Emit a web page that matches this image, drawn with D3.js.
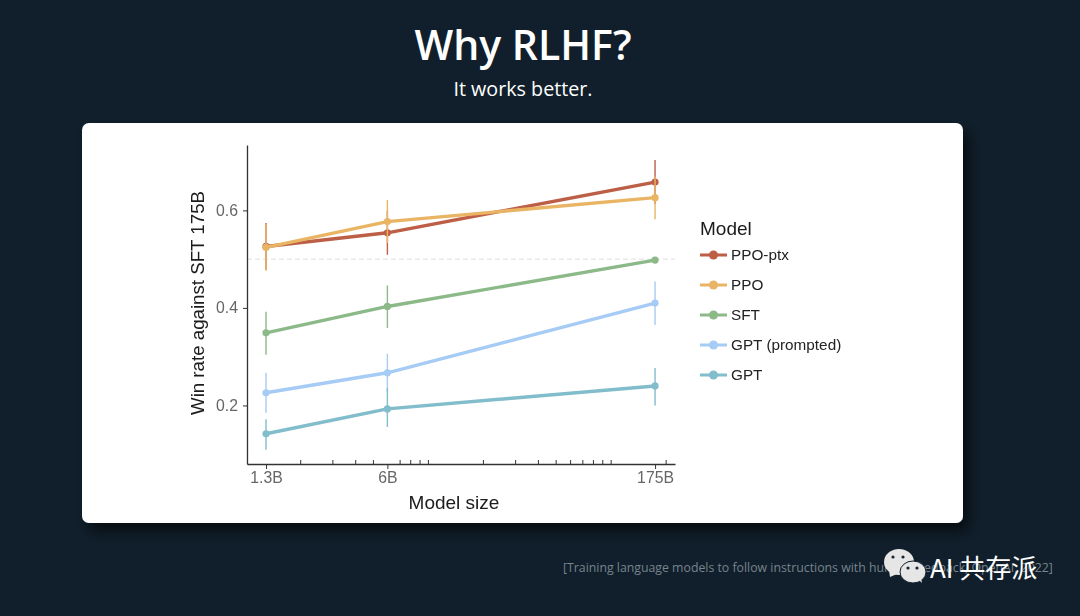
<!DOCTYPE html>
<html>
<head>
<meta charset="utf-8">
<script src="https://cdn.jsdelivr.net/npm/d3@7"></script>
<style>
  html, body { margin: 0; padding: 0; background: #101f2b; overflow: hidden; }
  svg { display: block; }
  text { font-family: "Liberation Sans", Arial, sans-serif; }
  .slide-text { font-family: "Open Sans", sans-serif; }
</style>
</head>
<body>
<div id="my_dataviz"></div>
<script>
// values
var sizes = [1.3, 6, 175];
var sizeLabels = ["1.3B", "6B", "175B"];
var minorSizes = [2, 3, 4, 5, 7, 8, 9, 10, 20, 30, 40, 50, 60, 70, 80, 90, 100, 200];
var yTicks = [0.2, 0.4, 0.6];
var models = ["PPO-ptx", "PPO", "SFT", "GPT (prompted)", "GPT"];
var colors = ["#bd5f47", "#e9b463", "#8cb988", "#a6cbf5", "#82bdcb"];

var ppoPtx = [0.526, 0.554, 0.658];
var ppoPtxLow = [0.478, 0.509, 0.613];
var ppoPtxHigh = [0.574, 0.599, 0.703];
var ppo = [0.524, 0.577, 0.626];
var ppoLow = [0.476, 0.533, 0.582];
var ppoHigh = [0.572, 0.621, 0.670];
var sft = [0.349, 0.403, 0.498];
var sftLow = [0.304, 0.359, 0.498];
var sftHigh = [0.392, 0.446, 0.498];
var gptPrompted = [0.226, 0.267, 0.410];
var gptPromptedLow = [0.185, 0.228, 0.365];
var gptPromptedHigh = [0.267, 0.306, 0.454];
var gpt = [0.142, 0.193, 0.240];
var gptLow = [0.109, 0.156, 0.200];
var gptHigh = [0.172, 0.236, 0.277];

var seriesValues = [ppoPtx, ppo, sft, gptPrompted, gpt];
var seriesLow = [ppoPtxLow, ppoLow, sftLow, gptPromptedLow, gptLow];
var seriesHigh = [ppoPtxHigh, ppoHigh, sftHigh, gptPromptedHigh, gptHigh];

var svg = d3.select("#my_dataviz")
  .append("svg")
  .attr("width", 1080)
  .attr("height", 616);

var defs = svg.append("defs");
var shadow = defs.append("filter").attr("id", "shadow")
  .attr("x", "-5%").attr("y", "-5%").attr("width", "110%").attr("height", "115%");
shadow.append("feDropShadow").attr("dx", 6).attr("dy", 8).attr("stdDeviation", 7)
  .attr("flood-color", "#000").attr("flood-opacity", 0.6);
var soft = defs.append("filter").attr("id", "soft");
soft.append("feGaussianBlur").attr("stdDeviation", 0.35);

// slide title
svg.append("text").attr("class", "slide-text")
  .attr("x", 523).attr("y", 60).attr("text-anchor", "middle")
  .style("font-size", "41px").style("font-weight", 600).style("fill", "#fff")
  .text("Why RLHF?");
svg.append("text").attr("class", "slide-text")
  .attr("x", 523).attr("y", 96).attr("text-anchor", "middle")
  .style("font-size", "19.7px").style("fill", "#fff")
  .text("It works better.");

// white card
svg.append("rect")
  .attr("x", 82).attr("y", 123).attr("width", 881).attr("height", 400)
  .attr("rx", 7).attr("fill", "#fff").attr("filter", "url(#shadow)");

var chart = svg.append("g").attr("filter", "url(#soft)");

// scales
var x = d3.scaleLog().domain([1.023, 225]).range([247, 675]);
var y = d3.scaleLinear().domain([0.08, 0.734]).range([464, 145]);

// reference line
chart.append("line")
  .attr("x1", x.range()[0]).attr("x2", x.range()[1])
  .attr("y1", y(0.5)).attr("y2", y(0.5))
  .attr("stroke", "#dedede").attr("stroke-width", 1).attr("stroke-dasharray", "5,3");

// axes
var yAxis = chart.append("g")
  .attr("transform", "translate(247,0)")
  .call(d3.axisLeft(y).tickValues(yTicks).tickFormat(d3.format(".1f")).tickSize(4).tickSizeOuter(0).tickPadding(5));
var xAxis = chart.append("g")
  .attr("transform", "translate(0,464)")
  .call(d3.axisBottom(x).tickValues(sizes).tickFormat(function (d, i) { return sizeLabels[i]; }).tickSize(5).tickSizeOuter(0).tickPadding(3));

// minor ticks point up into the plot
var xMinor = chart.append("g")
  .attr("transform", "translate(0,464)")
  .call(d3.axisTop(x).tickValues(minorSizes).tickFormat("").tickSize(4).tickSizeOuter(0));
xMinor.select(".domain").remove();

[yAxis, xAxis, xMinor].forEach(function (a) {
  a.selectAll(".domain").attr("stroke", "#333").attr("stroke-width", 1.3);
  a.selectAll(".tick line").attr("stroke", "#333").attr("stroke-width", 1);
  a.selectAll(".tick text").style("font-size", "15.8px").style("fill", "#666")
    .style("font-family", '"Liberation Sans", Arial, sans-serif');
});

// axis titles
chart.append("text")
  .attr("x", 454).attr("y", 509).attr("text-anchor", "middle")
  .style("font-size", "19px").style("fill", "#1a1a1a")
  .text("Model size");
chart.append("text")
  .attr("transform", "translate(204,303) rotate(-90)").attr("text-anchor", "middle")
  .style("font-size", "18.7px").style("fill", "#1a1a1a")
  .text("Win rate against SFT 175B");

var line = d3.line()
  .x(function (d, i) { return x(sizes[i]); })
  .y(function (d) { return y(d); });

// one group per model, first model ends up on the bottom
models.forEach(function (model, m) {
  var g = chart.append("g");
  g.selectAll("line.err")
    .data(sizes)
    .enter()
    .append("line")
    .attr("class", "err")
    .attr("x1", function (d) { return x(d); })
    .attr("x2", function (d) { return x(d); })
    .attr("y1", function (d, i) { return y(seriesLow[m][i]); })
    .attr("y2", function (d, i) { return y(seriesHigh[m][i]); })
    .attr("stroke", colors[m]).attr("stroke-width", 1.4);
  g.append("path")
    .attr("d", line(seriesValues[m]))
    .attr("fill", "none").attr("stroke", colors[m]).attr("stroke-width", 3.4);
  g.selectAll("circle")
    .data(seriesValues[m])
    .enter()
    .append("circle")
    .attr("cx", function (d, i) { return x(sizes[i]); })
    .attr("cy", function (d) { return y(d); })
    .attr("r", 3.6).attr("fill", colors[m]);
});

// handmade legend
var legend = chart.append("g");
legend.append("text")
  .attr("x", 700).attr("y", 235)
  .style("font-size", "19px").style("fill", "#1a1a1a").text("Model");
var legendY = d3.scalePoint().domain(models).range([255, 375]);
models.forEach(function (model, m) {
  var ly = legendY(model);
  legend.append("line")
    .attr("x1", 700).attr("x2", 727).attr("y1", ly).attr("y2", ly)
    .attr("stroke", colors[m]).attr("stroke-width", 3);
  legend.append("circle").attr("cx", 713.5).attr("cy", ly).attr("r", 4.5).attr("fill", colors[m]);
  legend.append("text")
    .attr("x", 731).attr("y", ly + 5)
    .style("font-size", "15.3px").style("fill", "#222").text(model);
});

// citation
svg.append("text").attr("class", "slide-text")
  .attr("x", 563).attr("y", 572)
  .style("font-size", "12.3px").style("fill", "#78838b")
  .text("[Training language models to follow instructions with human feedback, OpenAI, 2022]");

// watermark
var mark = svg.append("g");
[[899, 562, 15, 13], [913, 572, 13, 11]].forEach(function (b, i) {
  mark.append("ellipse").attr("cx", b[0]).attr("cy", b[1]).attr("rx", b[2]).attr("ry", b[3])
    .attr("fill", "#e6e6e6").attr("stroke", i ? "#101f2b" : "none").attr("stroke-width", 1);
});
mark.append("path").attr("d", "M889,570 L890,577 L897,574 Z").attr("fill", "#e6e6e6");
mark.append("path").attr("d", "M919,580 L922,583 L921,578 Z").attr("fill", "#e6e6e6");
[[893, 557], [903, 557], [908, 568], [917, 568]].forEach(function (e) {
  mark.append("circle").attr("cx", e[0]).attr("cy", e[1]).attr("r", 1.6).attr("fill", "#1a2530");
});
svg.append("text")
  .attr("x", 930).attr("y", 578)
  .style("font-family", '"Noto Sans CJK SC", sans-serif')
  .style("font-size", "26px").style("fill", "#fff")
  .text("AI 共存派");
</script>
</body>
</html>
